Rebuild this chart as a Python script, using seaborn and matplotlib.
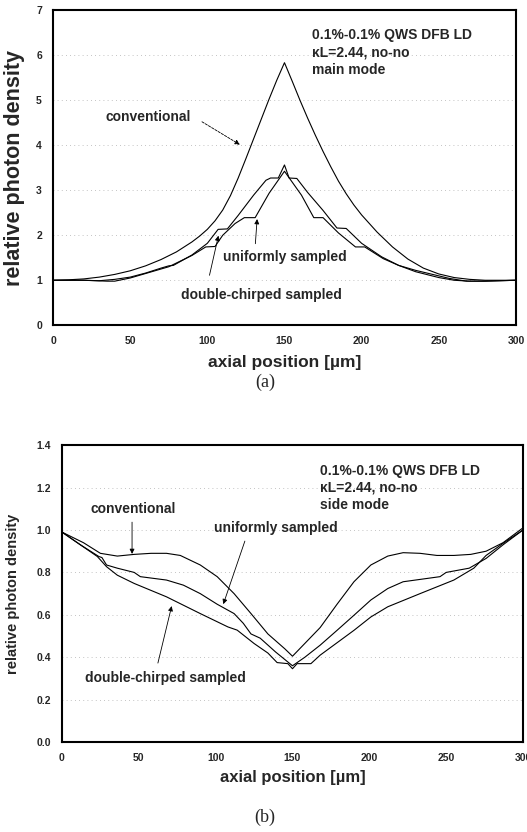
import numpy as np
import pandas as pd
import seaborn as sns
import matplotlib.pyplot as plt

# (a) main mode
main_conv_x = [0, 10, 20, 30, 40, 50, 60, 70, 80, 90, 95, 100, 105, 110, 115, 120, 125, 130, 135, 140, 145, 150,
               155, 160, 165, 170, 175, 180, 185, 190, 195, 200, 210, 220, 230, 240, 250, 260, 270, 280, 290, 300]
main_conv = [1.0, 1.01, 1.03, 1.07, 1.13, 1.21, 1.32, 1.46, 1.63, 1.85, 1.98, 2.13, 2.32, 2.56, 2.88, 3.27,
             3.7, 4.14, 4.58, 5.02, 5.44, 5.83,
             5.42, 5.0, 4.6, 4.22, 3.86, 3.52, 3.2, 2.92, 2.67, 2.45, 2.07, 1.74, 1.47, 1.27, 1.14, 1.06,
             1.02, 1.0, 1.0, 1.0]

main_dc_x = [0, 20, 30, 40, 50, 60, 70, 75, 78, 90, 100, 107, 113, 120, 130, 138, 141, 146, 150,
             153, 158, 165, 175, 184, 190, 200, 213, 224, 235, 250, 260, 270, 280, 290, 300]
main_dc = [1.0, 1.0, 0.99, 1.02, 1.07, 1.16, 1.27, 1.32, 1.33, 1.56, 1.82, 2.13, 2.14, 2.44, 2.89,
           3.22, 3.27, 3.27, 3.56, 3.27, 3.26, 2.95, 2.55, 2.16, 2.15, 1.82, 1.52, 1.33, 1.19,
           1.06, 1.0, 0.98, 0.98, 0.99, 1.0]

main_us_x = [0, 20, 35, 40, 50, 60, 75, 90, 99, 105, 110, 118, 124, 131, 140, 150,
             161, 169, 175, 185, 196, 202, 214, 224, 235, 257, 268, 279, 290, 300]
main_us = [1.0, 1.0, 0.98, 0.98, 1.05, 1.15, 1.3, 1.55, 1.74, 1.75, 2.0, 2.26, 2.39, 2.39, 2.93, 3.42,
           2.89, 2.39, 2.39, 2.05, 1.74, 1.74, 1.48, 1.33, 1.22, 1.04, 0.98, 0.98, 0.99, 1.0]

# (b) side mode
side_conv_x = [0, 14, 25, 36, 47, 58, 68, 77, 90, 101, 112, 123, 134, 145, 150,
               158, 168, 179, 190, 201, 212, 222, 233, 244, 255, 266, 276, 287, 300]
side_conv = [0.99, 0.94, 0.89, 0.877, 0.885, 0.89, 0.89, 0.88, 0.835, 0.78, 0.70, 0.606, 0.51, 0.44, 0.405,
             0.465, 0.54, 0.65, 0.756, 0.835, 0.877, 0.893, 0.89, 0.88, 0.88, 0.885, 0.90, 0.94, 1.01]

side_us_x = [0, 12, 24, 26, 29, 36, 47, 51, 68, 79, 90, 101, 112, 118, 123, 129, 139, 150,
             158, 168, 179, 190, 201, 212, 222, 233, 246, 250, 265, 276, 287, 300]
side_us = [0.99, 0.93, 0.875, 0.87, 0.835, 0.82, 0.80, 0.78, 0.764, 0.74, 0.70, 0.65, 0.606, 0.56, 0.51,
           0.49, 0.425, 0.36, 0.40, 0.457, 0.527, 0.598, 0.67, 0.724, 0.756, 0.767, 0.78, 0.80, 0.82,
           0.866, 0.93, 1.0]

side_dc_x = [0, 14, 23, 29, 36, 47, 68, 90, 108, 114, 125, 134, 140, 147, 150,
             153, 162, 168, 190, 201, 212, 233, 255, 268, 276, 287, 300]
side_dc = [0.99, 0.92, 0.875, 0.827, 0.787, 0.748, 0.685, 0.606, 0.543, 0.528, 0.465, 0.42, 0.375, 0.37, 0.346,
           0.37, 0.37, 0.41, 0.527, 0.59, 0.638, 0.70, 0.764, 0.82, 0.88, 0.937, 1.0]

sns.set_style("white")
plt.rcParams['font.family'] = ['Liberation Sans', 'DejaVu Sans']
plt.rcParams['font.weight'] = 'bold'

fig = plt.figure(figsize=(5.27, 8.32), dpi=100)
ax1 = fig.add_axes([0.1006, 0.609, 0.8784, 0.379])
ax2 = fig.add_axes([0.1176, 0.108, 0.8748, 0.357])

for xs, ys in [(main_conv_x, main_conv), (main_dc_x, main_dc), (main_us_x, main_us)]:
    sns.lineplot(x=xs, y=ys, ax=ax1, color='black', lw=0.8)
for xs, ys in [(side_conv_x, side_conv), (side_us_x, side_us), (side_dc_x, side_dc)]:
    sns.lineplot(x=xs, y=ys, ax=ax2, color='black', lw=0.8)

def style(ax, ymax, ystep, fmt):
    ax.set_xlim(0, 300)
    ax.set_ylim(0, ymax)
    ax.set_xticks(range(0, 301, 50))
    yt = np.arange(0, ymax + 1e-9, ystep)
    ax.set_yticks(yt)
    ax.set_yticklabels([fmt.format(v) for v in yt])
    for v in yt[1:-1]:
        ax.axhline(v, color='#b0b0b0', lw=0.6, ls=(0, (1, 4)), zorder=0)
    for s in ax.spines.values():
        s.set_linewidth(1.5)
        s.set_color('black')
    ax.tick_params(direction='in', length=4, width=1, pad=8, labelsize=7.5)
    for lab in ax.get_xticklabels() + ax.get_yticklabels():
        lab.set_fontweight('bold')

style(ax1, 7, 1, "{:.0f}")
style(ax2, 1.4, 0.2, "{:.1f}")

ax1.set_xlabel("axial position [\u00b5m]", fontsize=12.5, fontweight='bold')
ax1.set_ylabel("relative photon density", fontsize=15.5, fontweight='bold')
ax1.xaxis.set_label_coords(0.5, -0.095)
ax1.yaxis.set_label_coords(-0.06, 0.5)
ax2.set_xlabel("axial position [\u00b5m]", fontsize=12, fontweight='bold')
ax2.set_ylabel("relative photon density", fontsize=10.5, fontweight='bold')
ax2.xaxis.set_label_coords(0.5, -0.095)
ax2.yaxis.set_label_coords(-0.09, 0.5)

tk = dict(fontsize=10, fontweight='bold')
ax1.text(168, 6.6, "0.1%-0.1% QWS DFB LD\n\u03baL=2.44, no-no\nmain mode", va='top', ha='left',
         linespacing=1.3, **tk)
ax1.text(34, 4.62, "conventional", va='center', ha='left', **tk)
ax1.text(110, 1.51, "uniformly sampled", va='center', ha='left', **tk)
ax1.text(83, 0.67, "double-chirped sampled", va='center', ha='left', **tk)
ap = dict(arrowstyle='-|>', color='black', lw=0.6, mutation_scale=7)
ax1.annotate("", xy=(122.6, 3.98), xytext=(95, 4.55), arrowprops=dict(ap, ls=(0, (3, 1.5))))
ax1.annotate("", xy=(132.4, 2.42), xytext=(131, 1.75), arrowprops=ap)
ax1.annotate("", xy=(107.6, 2.05), xytext=(101, 1.05), arrowprops=ap)

ax2.text(168, 1.31, "0.1%-0.1% QWS DFB LD\n\u03baL=2.44, no-no\nside mode", va='top', ha='left',
         linespacing=1.25, **tk)
ax2.text(18.5, 1.10, "conventional", va='center', ha='left', **tk)
ax2.text(98.7, 1.01, "uniformly sampled", va='center', ha='left', **tk)
ax2.text(15.2, 0.30, "double-chirped sampled", va='center', ha='left', **tk)
ax2.annotate("", xy=(45.6, 0.874), xytext=(45.6, 1.05), arrowprops=ap)
ax2.annotate("", xy=(104.4, 0.638), xytext=(119.6, 0.96), arrowprops=ap)
ax2.annotate("", xy=(71.8, 0.654), xytext=(62, 0.36), arrowprops=ap)

fig.text(0.503, 0.540, "(a)", family='Liberation Serif', fontsize=13, fontweight='normal',
         ha='center', va='center')
fig.text(0.503, 0.018, "(b)", family='Liberation Serif', fontsize=13, fontweight='normal',
         ha='center', va='center')

fig.savefig("out.png", dpi=100)
